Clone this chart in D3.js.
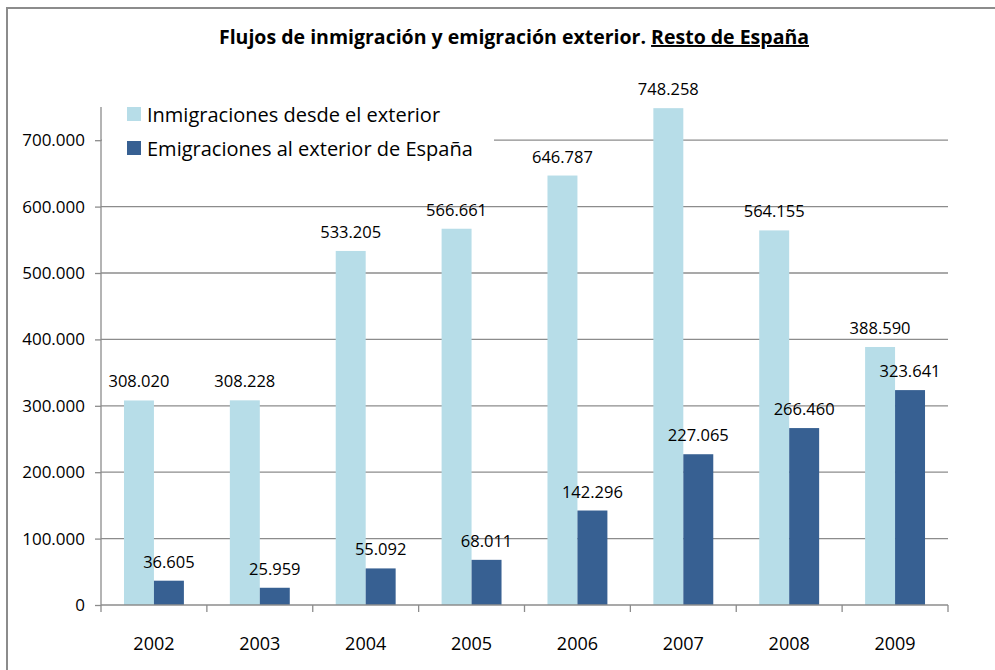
<!DOCTYPE html>
<html>
<head>
<meta charset="utf-8">
<script src="https://cdn.jsdelivr.net/npm/d3@7"></script>
<style>
  body { margin: 0; background: #fff; }
  text { font-family: "Open Sans", sans-serif; fill: #000; }
</style>
</head>
<body>
<div id="chart"></div>
<script>
const years = ["2002", "2003", "2004", "2005", "2006", "2007", "2008", "2009"];
const inmigraciones = [308020, 308228, 533205, 566661, 646787, 748258, 564155, 388590];
const emigraciones = [36605, 25959, 55092, 68011, 142296, 227065, 266460, 323641];
const yTicks = [0, 100000, 200000, 300000, 400000, 500000, 600000, 700000];
const seriesNames = ["Inmigraciones desde el exterior", "Emigraciones al exterior de España"];
const colors = ["#b7dde8", "#376092"];

const width = 995, height = 670;
const margin = { left: 101, right: 47, top: 107, bottom: 65 };
const boundedWidth = width - margin.left - margin.right;
const boundedHeight = height - margin.top - margin.bottom;

const fmt = v => d3.format(",")(v).replace(/,/g, ".");

const svg = d3.select("#chart").append("svg")
  .attr("width", width)
  .attr("height", height);

// chart border
svg.append("rect")
  .attr("x", 7).attr("y", 8)
  .attr("width", 1000).attr("height", 700)
  .attr("fill", "none")
  .attr("stroke", "#8c8c8c")
  .attr("stroke-width", 2);

// title
const title = svg.append("text")
  .attr("x", 514).attr("y", 44)
  .attr("text-anchor", "middle")
  .style("font-size", "19.5px")
  .style("font-weight", "bold");
title.append("tspan").text("Flujos de inmigración y emigración exterior. ");
title.append("tspan").text("Resto de España").style("text-decoration", "underline");

const bounds = svg.append("g")
  .attr("transform", `translate(${margin.left},${margin.top})`);

const x = d3.scaleBand().domain(years).range([0, boundedWidth]);
const y = d3.scaleLinear().domain([0, 750000]).range([boundedHeight, 0]);

// gridlines
bounds.append("g")
  .selectAll("line")
  .data(yTicks.slice(1))
  .join("line")
  .attr("x1", 0).attr("x2", boundedWidth)
  .attr("y1", d => y(d)).attr("y2", d => y(d))
  .attr("stroke", "#8c8c8c")
  .attr("stroke-width", 1.3);

// y axis
const yAxis = d3.axisLeft(y).tickValues(yTicks).tickSize(6).tickPadding(10).tickFormat(fmt);
const gy = bounds.append("g").call(yAxis);
gy.select(".domain").attr("stroke", "#8c8c8c").attr("stroke-width", 1.3).attr("d", `M-0,${boundedHeight}V0`);
gy.selectAll(".tick line").attr("stroke", "#8c8c8c").attr("stroke-width", 1.3);
gy.selectAll(".tick text").style("font-size", "17px").attr("fill", "#000").attr("font-family", "Open Sans");

// bars
const barW = x.bandwidth() * 0.283;
const off = x.bandwidth() * 0.217;
const series = [inmigraciones, emigraciones];

series.forEach((vals, s) => {
  bounds.append("g")
    .selectAll("rect")
    .data(vals)
    .join("rect")
    .attr("x", (d, i) => x(years[i]) + off + s * barW)
    .attr("y", d => y(d))
    .attr("width", barW)
    .attr("height", d => boundedHeight - y(d))
    .attr("fill", colors[s]);
});

// x axis
const gx = bounds.append("g")
  .attr("transform", `translate(0,${boundedHeight})`);
gx.append("line")
  .attr("x1", 0).attr("x2", boundedWidth)
  .attr("stroke", "#8c8c8c").attr("stroke-width", 1.3);
gx.selectAll(".xt")
  .data(d3.range(years.length + 1))
  .join("line")
  .attr("class", "xt")
  .attr("x1", i => i * x.step()).attr("x2", i => i * x.step())
  .attr("y1", 0).attr("y2", 7)
  .attr("stroke", "#8c8c8c").attr("stroke-width", 1.3);
gx.selectAll("text")
  .data(years)
  .join("text")
  .attr("x", d => x(d) + x.bandwidth() / 2)
  .attr("y", 45)
  .attr("text-anchor", "middle")
  .style("font-size", "18px")
  .text(d => d);

// data labels
series.forEach((vals, s) => {
  bounds.append("g")
    .selectAll("text")
    .data(vals)
    .join("text")
    .attr("x", (d, i) => x(years[i]) + off + s * barW + barW / 2)
    .attr("y", d => y(d) - 13)
    .attr("text-anchor", "middle")
    .style("font-size", "16.5px")
    .text(fmt);
});

// legend
const legend = svg.append("g").attr("transform", "translate(102,98)");
legend.append("rect")
  .attr("x", 0).attr("y", 0)
  .attr("width", 392).attr("height", 70)
  .attr("fill", "#fff");
seriesNames.forEach((name, i) => {
  const row = legend.append("g").attr("transform", `translate(25,${9 + i * 34})`);
  row.append("rect").attr("width", 14).attr("height", 14).attr("fill", colors[i]);
  row.append("text")
    .attr("x", 20).attr("y", 15)
    .style("font-size", "20px")
    .text(name);
});
</script>
</body>
</html>
